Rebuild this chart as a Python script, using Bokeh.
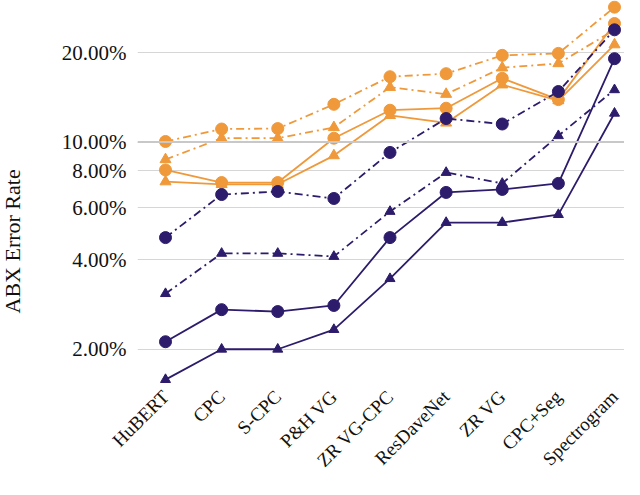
import math
from bokeh.plotting import figure
from bokeh.models import (FixedTicker, CustomJSTickFormatter, Span, ColumnDataSource, Title,
                          ColorBar, LinearColorMapper)
from bokeh.embed import file_html
from bokeh.resources import INLINE

categories = ["HuBERT", "CPC", "S-CPC", "P&H VG", "ZR VG-CPC", "ResDaveNet", "ZR VG", "CPC+Seg", "Spectrogram"]

# ABX error rates (%)
orange_dashdot_circle = [10.04, 11.06, 11.1, 13.4, 16.6, 17.0, 19.6, 19.9, 28.5]
orange_dashdot_triangle = [8.73, 10.3, 10.3, 11.2, 15.3, 14.5, 17.8, 18.4, 23.9]
orange_solid_circle = [8.05, 7.30, 7.30, 10.3, 12.8, 13.0, 16.4, 13.9, 25.1]
orange_solid_triangle = [7.35, 7.2, 7.2, 9.0, 12.3, 11.6, 15.6, 13.8, 21.3]
purple_dashdot_circle = [4.76, 6.65, 6.81, 6.45, 9.22, 12.0, 11.5, 14.8, 23.9]
purple_dashdot_triangle = [3.08, 4.21, 4.21, 4.11, 5.83, 7.89, 7.25, 10.5, 15.0]
purple_solid_circle = [2.12, 2.72, 2.68, 2.81, 4.76, 6.76, 6.92, 7.25, 19.1]
purple_solid_triangle = [1.58, 2.00, 2.00, 2.33, 3.46, 5.35, 5.35, 5.69, 12.5]

y_ticks = [2, 4, 6, 8, 10, 20]

ORANGE = "#EF993A"
PURPLE = "#2D1B6B"
FONT = "Liberation Serif"

xs = list(range(len(categories)))

p = figure(width=624, height=479, y_axis_type="log",
           x_range=(-0.4989, 8.178), y_range=(1.486, 30.01),
           output_backend="svg", toolbar_location=None,
           min_border_left=137, min_border_right=0, min_border_top=0, min_border_bottom=0)
p.frame_width = 487
p.frame_height = 387
p.outline_line_color = None
p.background_fill_color = "white"

p.xgrid.grid_line_color = None
p.ygrid.grid_line_color = "#d6d6d6"
p.ygrid.grid_line_width = 1

p.add_layout(Span(location=10, dimension="width", line_color="#c8c8c8", line_width=2))

series = [
    (orange_dashdot_circle, ORANGE, "8 4 2 4", "circle", 12),
    (orange_dashdot_triangle, ORANGE, "8 4 2 4", "triangle", 11),
    (orange_solid_circle, ORANGE, "solid", "circle", 12),
    (orange_solid_triangle, ORANGE, "solid", "triangle", 11),
    (purple_dashdot_circle, PURPLE, "8 4 2 4", "circle", 12),
    (purple_dashdot_triangle, PURPLE, "8 4 2 4", "triangle", 10),
    (purple_solid_circle, PURPLE, "solid", "circle", 12),
    (purple_solid_triangle, PURPLE, "solid", "triangle", 10),
]
for vals, col, dash, marker, size in series:
    src = ColumnDataSource(dict(x=xs, y=vals))
    p.line("x", "y", source=src, line_color=col, line_width=1.8, line_dash=dash)
    p.scatter("x", "y", source=src, marker=marker, size=size, fill_color=col, line_color=col)

# y axis
p.yaxis.ticker = FixedTicker(ticks=y_ticks, minor_ticks=[])
p.yaxis.formatter = CustomJSTickFormatter(code="return tick.toFixed(2) + '%';")
p.yaxis.axis_line_color = None
p.yaxis.major_tick_line_color = None
p.yaxis.minor_tick_line_color = None
p.yaxis.major_tick_out = 0
p.yaxis.major_tick_in = 0
p.yaxis.minor_tick_out = 0
p.yaxis.major_label_standoff = 11
p.yaxis.major_label_text_font = FONT
p.yaxis.major_label_text_font_size = "21px"
p.yaxis.major_label_text_color = "#111111"

# x axis
p.xaxis.ticker = FixedTicker(ticks=xs, minor_ticks=[])
p.xaxis.formatter = CustomJSTickFormatter(args=dict(labels=categories),
                                          code="return labels[Math.round(tick)];")
p.xaxis.major_label_orientation = math.pi / 4
p.xaxis.axis_line_color = None
p.xaxis.major_tick_line_color = None
p.xaxis.minor_tick_line_color = None
p.xaxis.major_tick_out = 0
p.xaxis.major_tick_in = 0
p.xaxis.minor_tick_out = 0
p.xaxis.major_label_standoff = 6
p.xaxis.major_label_text_font = FONT
p.xaxis.major_label_text_font_size = "19px"
p.xaxis.major_label_text_color = "#111111"

# invisible spacer panel between the tick labels and the axis title
spacer = ColorBar(color_mapper=LinearColorMapper(palette=["#ffffff"], low=0, high=1),
                  width=38, padding=0, margin=0, scale_alpha=0,
                  ticker=FixedTicker(ticks=[], minor_ticks=[]),
                  major_tick_line_color=None, minor_tick_line_color=None,
                  bar_line_color=None, border_line_color=None,
                  background_fill_alpha=0, major_label_text_font_size="1px",
                  major_label_text_alpha=0)
p.add_layout(spacer, "left")

title_kw = dict(text="ABX Error Rate", align="left", offset=74, vertical_align="middle",
                text_font=FONT, text_font_size="22px", text_font_style="normal",
                text_color="#111111")
if "standoff" in Title.properties():
    title_kw["standoff"] = -10
title = Title(**title_kw)
p.add_layout(title, "left")

open("out.html", "w").write(file_html(p, INLINE))
